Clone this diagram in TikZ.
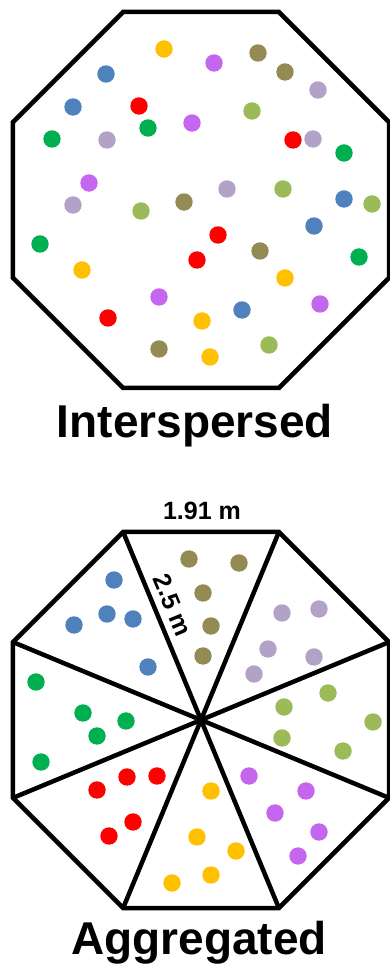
\documentclass[tikz,border=0pt]{standalone}
\usepackage{fontspec}
\setmainfont{Liberation Sans}
\definecolor{dotYellow}{HTML}{FFC000}
\definecolor{dotPurple}{HTML}{C566EE}
\definecolor{dotOlive}{HTML}{948A54}
\definecolor{dotLavender}{HTML}{B3A2C7}
\definecolor{dotBlue}{HTML}{4F81BD}
\definecolor{dotRed}{HTML}{FF0000}
\definecolor{dotGreen}{HTML}{00B050}
\definecolor{dotLime}{HTML}{9BBB59}
\tikzset{
  plotline/.style={line width=4.5pt,line join=miter},
  titletext/.style={font=\bfseries\fontsize{46}{46}\selectfont,anchor=base,inner sep=0pt},
  sizetext/.style={font=\bfseries\fontsize{25}{25}\selectfont,inner sep=0pt}
}
\begin{document}
\begin{tikzpicture}[x=1pt,y=1pt]
\useasboundingbox (0,0) rectangle (389,966);
\fill[white] (0,0) rectangle (389,966);
\coordinate (interC) at (201,766);
\coordinate (aggrC) at (201,246);
\draw[plotline] (interC) +(22.5:203.5) \foreach \a in {67.5,112.5,...,337.5}{ -- +(\a:203.5)} -- cycle;
\draw[plotline] (aggrC) +(22.5:203.5) \foreach \a in {67.5,112.5,...,337.5}{ -- +(\a:203.5)} -- cycle;
\foreach \a in {22.5,67.5,...,337.5}
  \draw[plotline] (aggrC) -- +(\a:203.5);
\foreach \c/\x/\y in {dotYellow/164/49, dotPurple/214/63, dotOlive/258/53, dotOlive/285/72,
  dotLavender/318/90, dotBlue/106/74, dotBlue/73/107, dotRed/139/106, dotLime/252/111,
  dotPurple/192/123, dotGreen/148/128, dotGreen/52/139, dotLavender/107/140, dotRed/293/140,
  dotLavender/313/139, dotGreen/344/153, dotPurple/89/183, dotLavender/227/189, dotLime/283/189,
  dotLavender/73/205, dotLime/141/211, dotOlive/184/202, dotBlue/344/199, dotLime/372/204,
  dotBlue/314/226, dotRed/218/235, dotGreen/40/244, dotOlive/260/251, dotRed/197/260,
  dotGreen/359/257, dotYellow/82/270, dotYellow/285/278, dotPurple/159/297, dotPurple/320/304,
  dotRed/108/318, dotYellow/202/321, dotBlue/242/310, dotOlive/159/349, dotYellow/210/357,
  dotLime/269/345}
  \fill[\c] (\x,966-\y) circle (8.7);
\foreach \c/\x/\y in {dotOlive/189/559, dotOlive/239/563, dotOlive/203/593, dotOlive/211/626,
  dotOlive/203/656, dotBlue/114/580, dotBlue/107/614, dotBlue/133/619, dotBlue/74/625,
  dotBlue/148/667, dotLavender/282/613, dotLavender/319/609, dotLavender/268/649,
  dotLavender/314/657, dotLavender/254/674, dotGreen/36/682, dotGreen/83/713, dotGreen/126/721,
  dotGreen/97/736, dotGreen/41/762, dotLime/328/693, dotLime/284/707, dotLime/373/722,
  dotLime/282/738, dotLime/343/751, dotRed/127/777, dotRed/157/776, dotRed/97/790,
  dotRed/133/822, dotRed/109/836, dotYellow/211/791, dotYellow/197/837, dotYellow/236/851,
  dotYellow/211/875, dotYellow/172/883, dotPurple/249/776, dotPurple/306/791,
  dotPurple/275/813, dotPurple/319/832, dotPurple/298/856}
  \fill[\c] (\x,966-\y) circle (8.7);
\node[titletext] (interTitle) at (195,528) {Interspersed};
\node[titletext] (aggrTitle) at (199,11) {Aggregated};
\node[sizetext,anchor=base] (sideLabel) at (202,446) {1.91 m};
\node[sizetext,rotate=-67.5] (radiusLabel) at (173,361) {2.5 m};
\end{tikzpicture}
\end{document}
